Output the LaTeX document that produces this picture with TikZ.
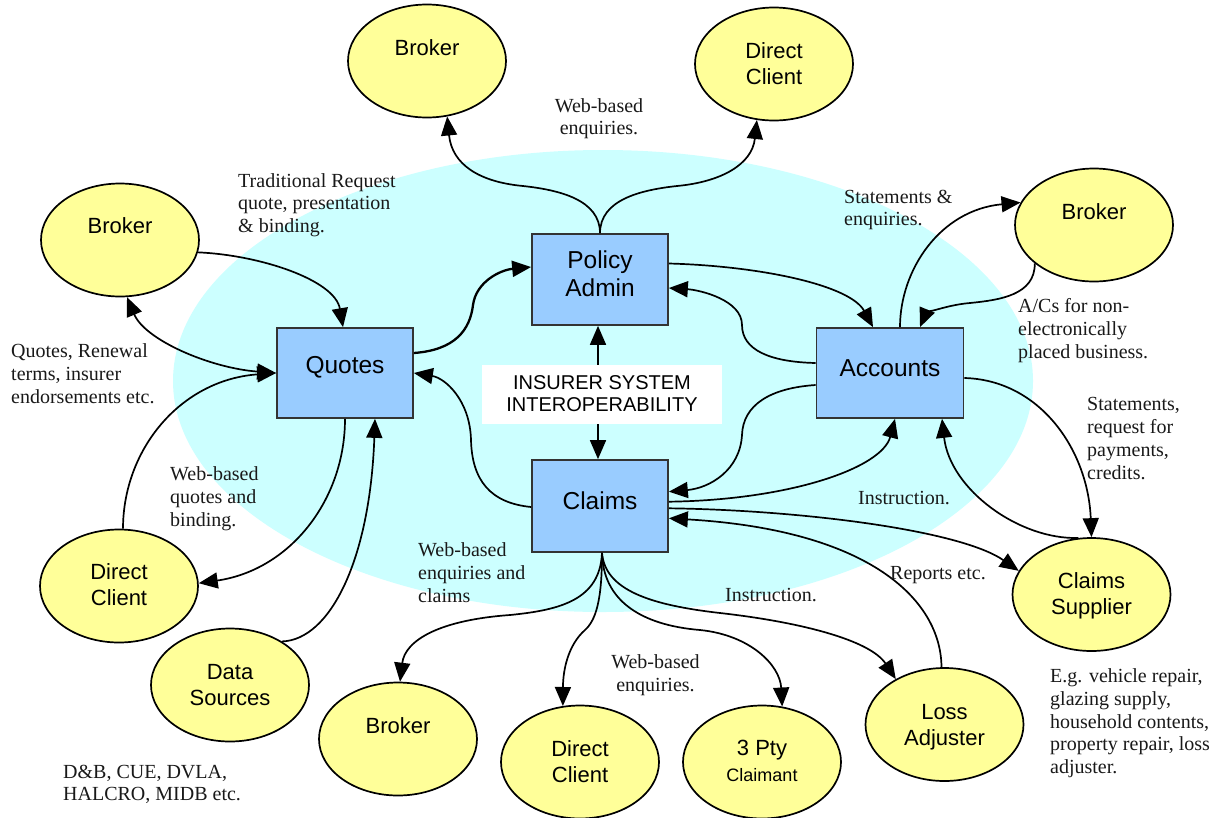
\documentclass[tikz,border=0pt]{standalone}
\usepackage{fontspec}
\newfontfamily\sansf{Liberation Sans}
\newfontfamily\serf{Liberation Serif}
\usetikzlibrary{shapes.geometric,arrows.meta,calc}
\definecolor{bgcyan}{HTML}{CCFFFF}
\definecolor{boxblue}{HTML}{99CCFF}
\definecolor{yel}{HTML}{FFFF99}
\definecolor{boxline}{HTML}{333333}
\begin{document}
\begin{tikzpicture}[x=1pt,y=-1pt,
  ell/.style={ellipse, draw=black, line width=1.7pt, fill=yel, minimum width=158pt, minimum height=113pt, inner sep=0pt},
  elt/.style={font=\sansf\fontsize{22}{26}\selectfont, align=center, inner sep=0pt},
  sysbox/.style={draw=boxline, line width=1.7pt, fill=boxblue, minimum width=136pt, minimum height=90pt, inner sep=0pt},
  boxt/.style={font=\sansf\fontsize{24.5}{28}\selectfont, align=center, inner sep=0pt},
  lbl/.style={font=\serf\fontsize{20}{22.8}\selectfont, align=left, inner sep=0pt, anchor=north west, text=black!90},
  conn/.style={line width=1.7pt, -{Triangle[length=19pt 0 0,width=16pt 0 0]}},
  dbl/.style={line width=1.7pt, {Triangle[length=19pt 0 0,width=16pt 0 0]}-{Triangle[length=19pt 0 0,width=16pt 0 0]}},
  ]
\useasboundingbox (0,0) rectangle (1217,817);
\fill[white] (0,0) rectangle (1217,817);
\fill[bgcyan] (603,381) ellipse [x radius=430, y radius=231];

% system boxes
\node[sysbox, minimum height=91pt] (pa) at (600,279.5) {};
\node[boxt] (pat) at (600,273.5) {Policy\\Admin};
\node[sysbox] (qu) at (345,373) {};
\node[boxt] (qut) at (345,367.5) {Quotes};
\node[sysbox, minimum width=147pt] (ac) at (890,373) {};
\node[boxt] (act) at (890,368) {Accounts};
\node[sysbox, minimum height=92pt] (cl) at (600,506) {};
\node[boxt] (clt) at (600,501) {Claims};

% external parties
\node[ell] (b1) at (427,61) {};   \node[elt] (b1t) at (427,48) {Broker};
\node[ell] (dc1) at (774,64) {};  \node[elt] (dc1t) at (774,64) {Direct\\Client};
\node[ell] (b2) at (120,240) {};  \node[elt] (b2t) at (120,226) {Broker};
\node[ell] (b3) at (1094,225) {}; \node[elt] (b3t) at (1094,212) {Broker};
\node[ell] (dc2) at (119,586) {}; \node[elt] (dc2t) at (119,585) {Direct\\Client};
\node[ell] (ds) at (230,685) {};  \node[elt] (dst) at (230,685) {Data\\Sources};
\node[ell] (b4) at (398,739) {};  \node[elt] (b4t) at (398,725.5) {Broker};
\node[ell] (dc3) at (580,762) {}; \node[elt] (dc3t) at (580,762) {Direct\\Client};
\node[ell] (tp) at (762,762) {};  \node[elt] (tpt) at (762,761) {3 Pty\\{\fontsize{18}{20}\selectfont Claimant}};
\node[ell] (la) at (944.5,724.5) {}; \node[elt] (lat) at (944.5,727) {Loss\\Adjuster};
\node[ell] (cs) at (1091.5,594.5) {}; \node[elt] (cst) at (1091.5,596) {Claims\\Supplier};

% connectors
\draw[conn] (pa.north) .. controls (600,200) and (560,190) .. (523,186) .. controls (480,182) and (452,165) .. (b1.-70);
\draw[conn] (pa.north) .. controls (600,200) and (640,190) .. (677,186) .. controls (720,182) and (752,165) .. (dc1.-107);
\draw[conn] (b2.-9) .. controls (260,255) and (335,280) .. ($(qu.north)+(-2,0)$);
\draw[dbl] (b2.-83) .. controls (145,340) and (210,368) .. (qu.west);
\draw[conn] (dc2.86) .. controls (123,450) and (180,380) .. (qu.west);
\draw[conn] (qu.south) .. controls (345,500) and (290,570) .. (dc2.2);
\draw[conn] (ds.40) .. controls (330,640) and (370,560) .. ($(qu.south)+(30,0)$);
\draw[conn, line width=2.3pt] ($(qu.east)+(0,-20)$) .. controls (455,350) and (470,330) .. (473,305) .. controls (476,282) and (500,270) .. ($(pa.west)+(0,-12.5)$);
\draw[conn] ($(cl.west)+(0,1)$) .. controls (490,503) and (472,480) .. (471,440) .. controls (470,400) and (445,378) .. (qu.east);
\draw[conn] ($(pa.east)+(0,-16)$) .. controls (760,266) and (850,285) .. ($(ac.north)+(-17,0)$);
\draw[conn] ($(ac.west)+(0,-10)$) .. controls (770,362) and (742,350) .. (742,325) .. controls (742,300) and (700,290) .. ($(pa.east)+(0,8.5)$);
\draw[conn] ($(ac.west)+(0,12)$) .. controls (770,388) and (743,405) .. (742,435) .. controls (740,470) and (710,488) .. ($(cl.east)+(0,-14.3)$);
\draw[conn] ($(cl.east)+(0,-4.3)$) .. controls (790,500) and (882,468) .. ($(ac.south)+(5,0)$);
\draw[conn] ($(cl.east)+(0,2.3)$) .. controls (800,510) and (960,530) .. (cs.162);
\draw[conn] (la.93) .. controls (941,600) and (870,530) .. ($(cl.east)+(0,12.3)$);
\draw[conn] ($(ac.east)+(0,5)$) .. controls (1040,380) and (1088,450) .. (cs.north);
\draw[conn] (cs.103) .. controls (1020,540) and (950,490) .. ($(ac.south)+(52,0)$);
\draw[conn] ($(ac.north)+(10,0)$) .. controls (900,270) and (940,210) .. (b3.163);
\draw[conn] (b3.-147) .. controls (1035,295) and (1000,300) .. (970,303) .. controls (945,305) and (925,315) .. ($(ac.north)+(30,0)$);
\draw[conn] ($(cl.south)+(2,0)$) .. controls (600,600) and (560,610) .. (510,615) .. controls (440,620) and (405,640) .. (b4.88);
\draw[conn] ($(cl.south)+(2,0)$) .. controls (602,600) and (596,620) .. (585,630) .. controls (568,645) and (563,670) .. (dc3.107);
\draw[conn] ($(cl.south)+(2,0)$) .. controls (603,600) and (640,625) .. (700,630) .. controls (750,635) and (780,665) .. (tp.70);
\draw[conn] ($(cl.south)+(2,0)$) .. controls (605,590) and (650,605) .. (720,613) .. controls (800,622) and (870,640) .. (la.137);
\draw[dbl] ($(pa.south)+(-2,0)$) -- ($(cl.north)+(-2,0)$);

% centre label
\node[fill=white, minimum width=240pt, minimum height=59pt, inner sep=0pt, align=center,
      font=\sansf\fontsize{20}{22}\selectfont] (iso) at (602,394) {INSURER SYSTEM\\INTEROPERABILITY};

% text labels
\node[lbl, anchor=north, align=center] (l1) at (599,98) {Web-based\\enquiries.};
\node[lbl] (l2) at (238,173) {Traditional Request\\quote, presentation\\\& binding.};
\node[lbl] (l3) at (844,189.5) {Statements \&\\enquiries.};
\node[lbl] (l4) at (1018,298.5) {A/Cs for non-\\electronically\\placed business.};
\node[lbl] (l5) at (11,343.5) {Quotes, Renewal\\terms, insurer\\endorsements etc.};
\node[lbl] (l6) at (1087,397.5) {Statements,\\request for\\payments,\\credits.};
\node[lbl] (l7) at (170,466.5) {Web-based\\quotes and\\binding.};
\node[lbl] (l8) at (858,491.5) {Instruction.};
\node[lbl] (l9) at (418,542.5) {Web-based\\enquiries and\\claims};
\node[lbl] (l10) at (890,566) {Reports etc.};
\node[lbl] (l11) at (725,588) {Instruction.};
\node[lbl, anchor=north, align=center] (l12) at (655.5,654.5) {Web-based\\enquiries.};
\node[lbl] (l13) at (1050,668.5) {E.g. vehicle repair,\\glazing supply,\\household contents,\\property repair, loss\\adjuster.};
\node[lbl] (l14) at (63,764.5) {D\&B, CUE, DVLA,\\HALCRO, MIDB etc.};
\end{tikzpicture}
\end{document}
